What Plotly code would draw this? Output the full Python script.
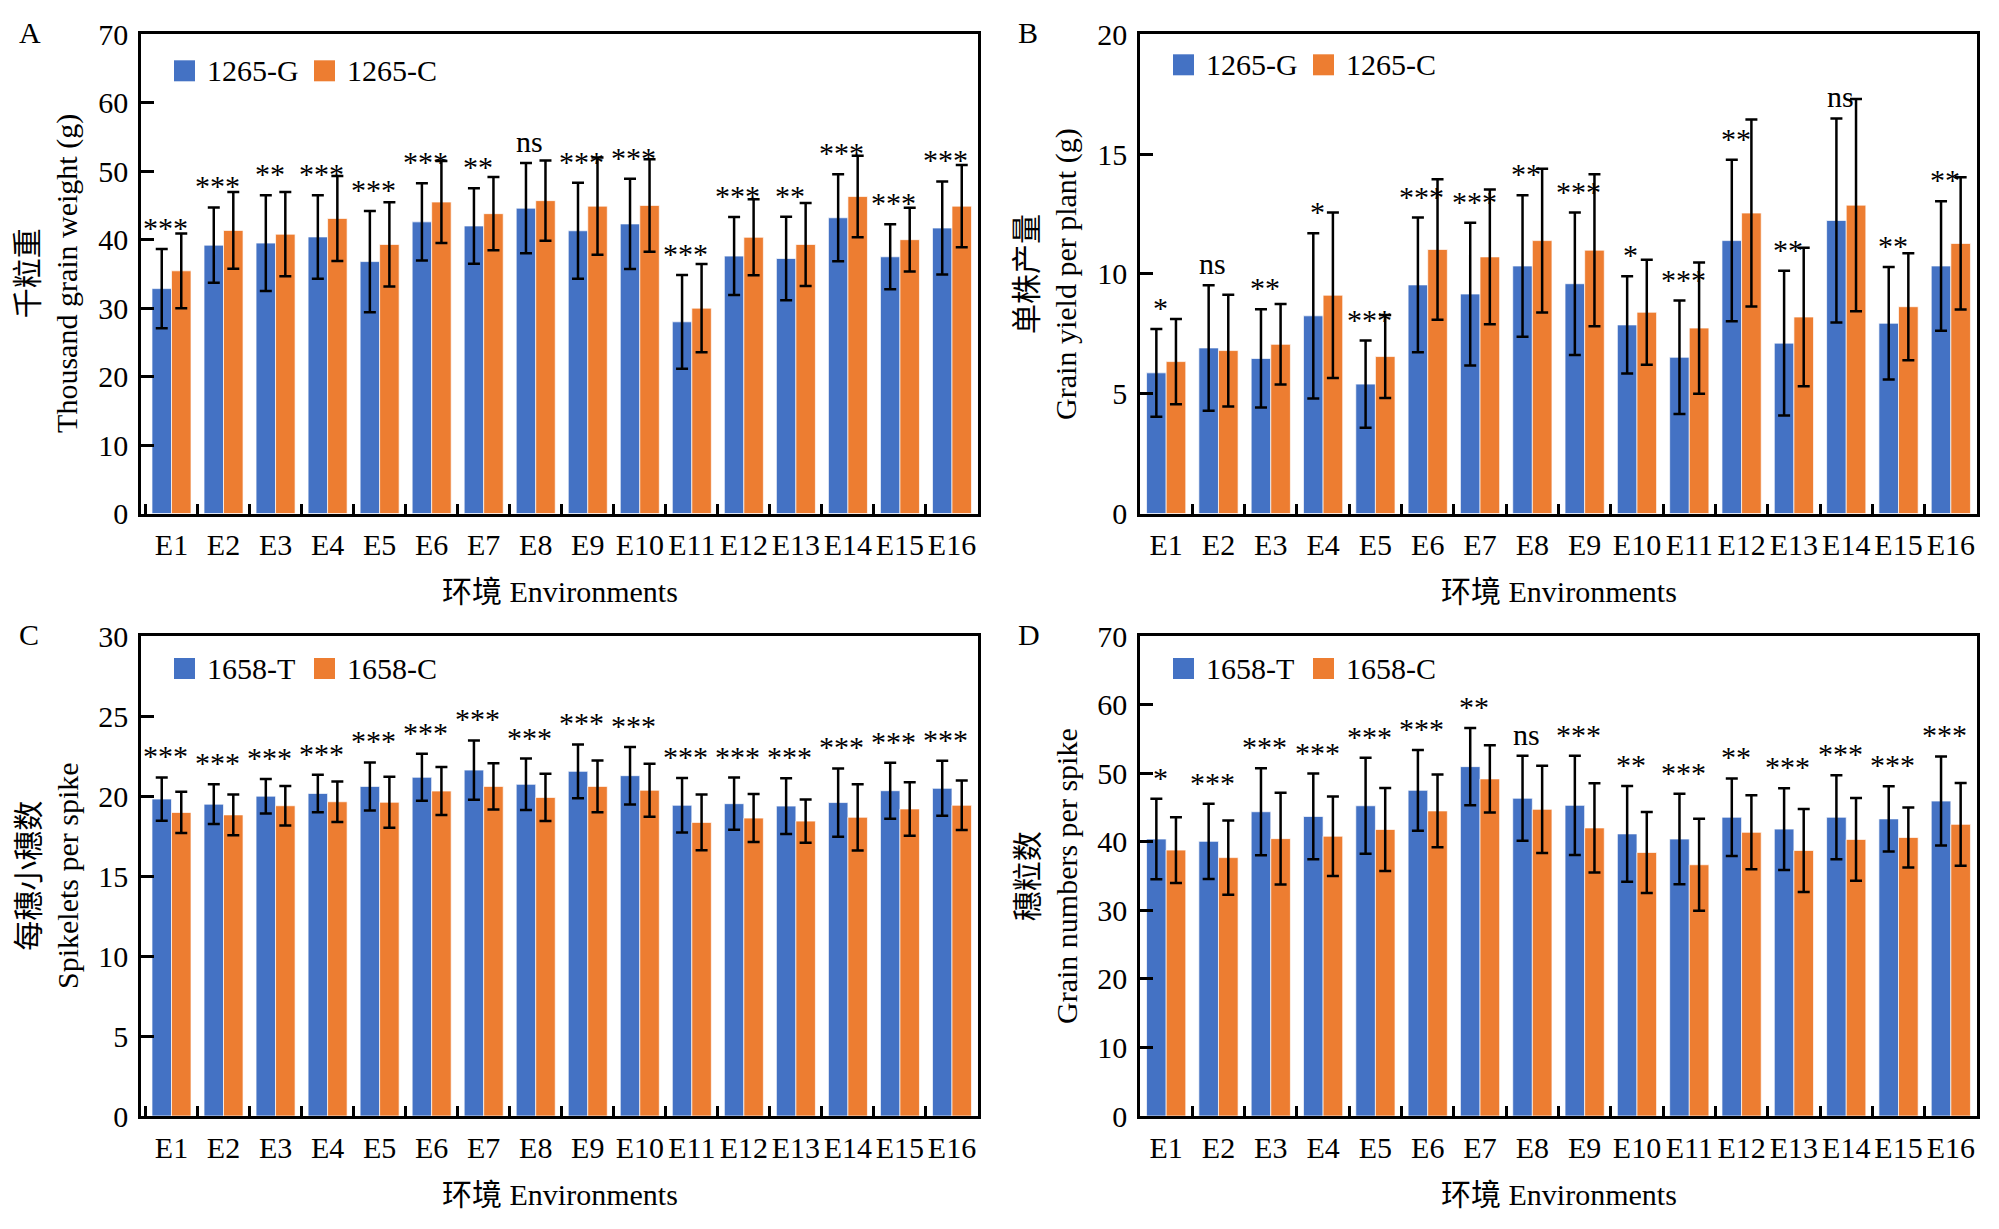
import plotly.graph_objects as go

W, H = 1999, 1229
FONT = "Liberation Serif, Noto Sans CJK SC"
BLUE = "#4472C4"
ORANGE = "#ED7D31"

envs = ["E1", "E2", "E3", "E4", "E5", "E6", "E7", "E8", "E9", "E10",
        "E11", "E12", "E13", "E14", "E15", "E16"]

# Panel A: thousand grain weight (g)
A_G = [32.85, 39.2, 39.5, 40.4, 36.8, 42.6, 42.0, 44.6, 41.3, 42.3, 28.0, 37.6, 37.25, 43.2, 37.5, 41.7]
A_G_sd = [5.8, 5.5, 7.0, 6.1, 7.4, 5.65, 5.5, 6.6, 7.0, 6.6, 6.85, 5.7, 6.1, 6.35, 4.75, 6.8]
A_C = [35.45, 41.35, 40.8, 43.1, 39.3, 45.5, 43.8, 45.7, 44.9, 45.0, 30.0, 40.35, 39.3, 46.3, 40.0, 44.9]
A_C_sd = [5.45, 5.6, 6.15, 6.2, 6.15, 6.0, 5.35, 5.85, 7.1, 6.75, 6.45, 5.55, 6.05, 5.95, 4.65, 6.0]
A_sig = ["***", "***", "**", "***", "***", "***", "**", "ns", "***", "***", "***", "***", "**", "***", "***", "***"]

# Panel B: grain yield per plant (g)
B_G = [5.87, 6.91, 6.47, 8.25, 5.40, 9.54, 9.16, 10.33, 9.59, 7.87, 6.52, 11.39, 7.11, 12.23, 7.94, 10.33]
B_G_sd = [1.83, 2.62, 2.05, 3.45, 1.82, 2.81, 2.98, 2.95, 2.97, 2.03, 2.37, 3.37, 3.02, 4.26, 2.35, 2.70]
B_C = [6.34, 6.80, 7.06, 9.11, 6.55, 11.02, 10.71, 11.39, 10.99, 8.40, 7.74, 12.54, 8.20, 12.87, 8.63, 11.27]
B_C_sd = [1.78, 2.33, 1.68, 3.45, 1.73, 2.93, 2.81, 3.0, 3.17, 2.19, 2.74, 3.9, 2.89, 4.43, 2.23, 2.76]
B_sig = ["*", "ns", "**", "*", "***", "***", "***", "**", "***", "*", "***", "**", "**", "ns", "**", "**"]

# Panel C: spikelets per spike
C_G = [19.81, 19.49, 19.99, 20.16, 20.60, 21.17, 21.62, 20.73, 21.54, 21.27, 19.42, 19.52, 19.37, 19.59, 20.33, 20.48]
C_G_sd = [1.35, 1.24, 1.08, 1.17, 1.5, 1.47, 1.85, 1.61, 1.68, 1.8, 1.7, 1.63, 1.74, 2.13, 1.75, 1.72]
C_C = [18.97, 18.82, 19.39, 19.64, 19.61, 20.31, 20.60, 19.91, 20.60, 20.36, 18.35, 18.62, 18.43, 18.67, 19.19, 19.42]
C_C_sd = [1.29, 1.28, 1.23, 1.26, 1.6, 1.5, 1.44, 1.48, 1.62, 1.65, 1.74, 1.5, 1.35, 2.07, 1.67, 1.55]
C_sig = ["***"] * 16

# Panel D: grain numbers per spike
D_G = [40.39, 40.05, 44.37, 43.68, 45.24, 47.49, 50.95, 46.34, 45.30, 41.14, 40.39, 43.57, 41.84, 43.57, 43.33, 45.93]
D_G_sd = [5.86, 5.5, 6.35, 6.25, 7.0, 5.9, 5.65, 6.2, 7.24, 6.98, 6.6, 5.65, 5.97, 6.12, 4.76, 6.5]
D_C = [38.78, 37.68, 40.45, 40.80, 41.78, 44.49, 49.16, 44.72, 42.01, 38.43, 36.64, 41.37, 38.72, 40.33, 40.62, 42.53]
D_C_sd = [4.8, 5.4, 6.7, 5.8, 6.05, 5.3, 4.9, 6.35, 6.5, 5.9, 6.7, 5.4, 6.06, 6.03, 4.38, 6.05]
D_sig = ["*", "***", "***", "***", "***", "***", "**", "ns", "***", "**", "***", "**", "***", "***", "***", "***"]

panels = [
    dict(key="A", g=A_G, gsd=A_G_sd, c=A_C, csd=A_C_sd, sig=A_sig,
         names=("1265-G", "1265-C"), yrange=70, dtick=10,
         ytitle="千粒重<br>Thousand grain weight (g)",
         box=(141, 978, 34.3, 513.5), legtop=26),
    dict(key="B", g=B_G, gsd=B_G_sd, c=B_C, csd=B_C_sd, sig=B_sig,
         names=("1265-G", "1265-C"), yrange=20, dtick=5,
         ytitle="单株产量<br>Grain yield per plant (g)",
         box=(1140, 1977, 34.3, 513.5), legtop=20),
    dict(key="C", g=C_G, gsd=C_G_sd, c=C_C, csd=C_C_sd, sig=C_sig,
         names=("1658-T", "1658-C"), yrange=30, dtick=5,
         ytitle="每穗小穗数<br>Spikelets per spike",
         box=(141, 978, 636, 1116), legtop=22),
    dict(key="D", g=D_G, gsd=D_G_sd, c=D_C, csd=D_C_sd, sig=D_sig,
         names=("1658-T", "1658-C"), yrange=70, dtick=10,
         ytitle="穗粒数<br>Grain numbers per spike",
         box=(1140, 1977, 636, 1116), legtop=22),
]


def px_x(v):
    return v / W


def px_y(v):
    return 1 - v / H


fig = go.Figure()
shapes = []
annotations = []
layout_axes = {}

for i, p in enumerate(panels):
    n = "" if i == 0 else str(i + 1)
    xa, ya = "x" + n, "y" + n
    x0, x1, y0, y1 = p["box"]
    for vals, sds, color, name in ((p["g"], p["gsd"], BLUE, p["names"][0]),
                                   (p["c"], p["csd"], ORANGE, p["names"][1])):
        fig.add_trace(go.Bar(
            x=envs, y=vals, name=name, xaxis=xa, yaxis=ya, showlegend=False,
            marker=dict(color=color, line=dict(color="rgba(255,255,255,0.7)", width=1)),
            error_y=dict(type="data", array=sds, visible=True, color="black",
                         thickness=2.5, width=6),
        ))
    axis_common = dict(showline=True, linecolor="black", linewidth=2.5, mirror=True,
                       showgrid=False, zeroline=False, ticks="inside", tickcolor="black",
                       tickwidth=2.5, automargin=False,
                       tickfont=dict(family=FONT, size=30, color="black"))
    layout_axes["xaxis" + n] = dict(axis_common, domain=[px_x(x0), px_x(x1)], anchor=ya,
                                    type="category", tickson="boundaries", ticklen=10,
                                    tickangle=0, ticklabelstandoff=3)
    layout_axes["yaxis" + n] = dict(axis_common, domain=[px_y(y1), px_y(y0)], anchor=xa,
                                    range=[0, p["yrange"]], dtick=p["dtick"], ticklen=13,
                                    ticklabelstandoff=4)
    # significance labels above the first genotype's error bar
    for e, v, s, lab in zip(envs, p["g"], p["gsd"], p["sig"]):
        annotations.append(dict(x=e, y=v + s, xref=xa, yref=ya, text=lab, showarrow=False,
                                xshift=-6, yshift=3, yanchor="bottom", xanchor="center",
                                font=dict(family=FONT, size=30, color="black")))
    # in-plot legend
    lt = y0 + p["legtop"]
    for dx, color, name in ((33, BLUE, p["names"][0]), (173, ORANGE, p["names"][1])):
        shapes.append(dict(type="rect", xref="paper", yref="paper",
                           x0=px_x(x0 + dx), x1=px_x(x0 + dx + 21),
                           y0=px_y(lt + 21), y1=px_y(lt),
                           fillcolor=color, line=dict(width=0)))
        annotations.append(dict(x=px_x(x0 + dx + 31), y=px_y(lt + 10.5), xref="paper",
                                yref="paper", text=name, showarrow=False, xanchor="left",
                                yanchor="middle",
                                font=dict(family=FONT, size=30, color="black")))
    # panel letter
    annotations.append(dict(x=px_x(x0 - 124), y=px_y(y0 - 1.5), xref="paper", yref="paper",
                            text=p["key"], showarrow=False, xanchor="left", yanchor="middle",
                            font=dict(family=FONT, size=30, color="black")))
    # x title
    annotations.append(dict(x=px_x((x0 + x1) / 2), y=px_y(y1 + 78), xref="paper",
                            yref="paper", text="环境 Environments", showarrow=False,
                            xanchor="center", yanchor="middle",
                            font=dict(family=FONT, size=30, color="black")))
    # y title (two lines, rotated)
    annotations.append(dict(x=px_x(x0 - 93), y=px_y((y0 + y1) / 2), xref="paper",
                            yref="paper", text=p["ytitle"], showarrow=False,
                            textangle=-90, xanchor="center", yanchor="middle",
                            font=dict(family=FONT, size=30, color="black")))

fig.update_layout(
    width=W, height=H,
    margin=dict(l=0, r=0, t=0, b=0, pad=0, autoexpand=False),
    paper_bgcolor="white", plot_bgcolor="white",
    barmode="group", bargap=0.25, bargroupgap=0, showlegend=False,
    shapes=shapes, annotations=annotations,
    font=dict(family=FONT, size=30, color="black"),
    **layout_axes,
)

fig.write_html(
    "out.html",
    config={"displayModeBar": False},
    post_script="document.body.style.margin='0';document.body.style.padding='0';"
                "document.documentElement.style.overflow='hidden';",
)
